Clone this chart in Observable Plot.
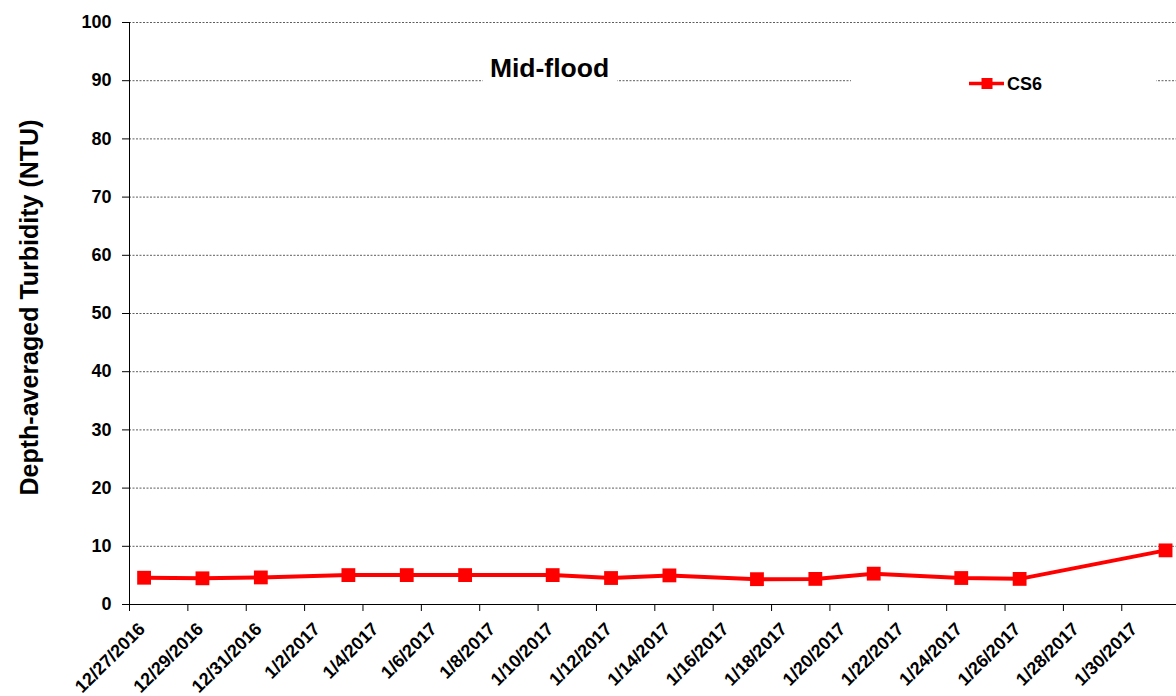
<!DOCTYPE html>
<html><head><meta charset="utf-8">
<script src="https://cdn.jsdelivr.net/npm/d3@7"></script>
<script src="https://cdn.jsdelivr.net/npm/@observablehq/plot@0.6"></script>
<style>
body{margin:0;background:#fff}
svg{font-family:"Liberation Sans",Arial,sans-serif}
</style>
</head><body><div id="chart"></div>
<script>
// ---- data ----
const sampleDates = ["2016-12-27T12:00Z","2016-12-29T12:00Z","2016-12-31T12:00Z","2017-01-03T12:00Z","2017-01-05T12:00Z","2017-01-07T12:00Z","2017-01-10T12:00Z","2017-01-12T12:00Z","2017-01-14T12:00Z","2017-01-17T12:00Z","2017-01-19T12:00Z","2017-01-21T12:00Z","2017-01-24T12:00Z","2017-01-26T12:00Z","2017-01-31T12:00Z"];
const cs6Values = [4.6, 4.5, 4.65, 5.05, 5.05, 5.05, 5.05, 4.55, 5.0, 4.35, 4.4, 5.3, 4.55, 4.4, 9.3];
const xTickDates = ["2016-12-27","2016-12-29","2016-12-31","2017-01-02","2017-01-04","2017-01-06","2017-01-08","2017-01-10","2017-01-12","2017-01-14","2017-01-16","2017-01-18","2017-01-20","2017-01-22","2017-01-24","2017-01-26","2017-01-28","2017-01-30"];
const yTickValues = [0,10,20,30,40,50,60,70,80,90,100];
const xDomain = ["2016-12-27T00:00Z","2017-01-31T21:00Z"];
const seriesName = "CS6";
const titleText = "Mid-flood";
const yLabelText = "Depth-averaged Turbidity (NTU)";

const data = sampleDates.map((d,i)=>({date:new Date(d), value:cs6Values[i]}));
const xTicks = xTickDates.map(d=>new Date(d+"T00:00Z"));
const fmt = d3.utcFormat("%-m/%-d/%Y");
const RED = "#ff0000";

const chart = Plot.plot({
  width:1176, height:696,
  marginLeft:129, marginRight:0, marginTop:22, marginBottom:92,
  style:{fontFamily:"'Liberation Sans', Arial, sans-serif", fontWeight:"bold", fontSize:"18px", background:"#fff", color:"#000", overflow:"visible"},
  x:{type:"utc", domain:xDomain.map(d=>new Date(d))},
  y:{domain:[0,100]},
  marks:[
    Plot.gridY(yTickValues.filter(v=>v>0), {stroke:"#333", strokeOpacity:1, strokeWidth:0.8, strokeDasharray:"2,1.5"}),
    Plot.axisY({ticks:yTickValues, tickSize:7, tickPadding:11, label:null, fontSize:18, fontWeight:"bold", stroke:"#000"}),
    Plot.axisX({ticks:xTicks, tickSize:7, tickPadding:4, tickRotate:-45, tickFormat:fmt, label:null, fontSize:18, fontWeight:"bold", stroke:"#000"}),
    Plot.ruleX([new Date(xDomain[0])], {stroke:"#000", strokeWidth:1}),
    Plot.ruleY([0], {stroke:"#000", strokeWidth:1}),
    Plot.line(data, {x:"date", y:"value", stroke:RED, strokeWidth:4}),
    Plot.dot(data, {x:"date", y:"value", symbol:"square", r:7.8, fill:RED, stroke:"none"})
  ]
});
document.getElementById("chart").appendChild(chart);

const svg = d3.select(chart);
// shift rotated x tick labels (Excel-style placement)
const xl = svg.select("g[aria-label='x-axis tick label']");
xl.attr("transform", `translate(12.5,10.5) ${xl.attr("transform")||""}`);

// title box
svg.append("rect").attr("x",483).attr("y",52).attr("width",134).attr("height",40).attr("fill","#fff");
svg.append("text").attr("x",549.5).attr("y",77).attr("text-anchor","middle")
  .attr("font-size",26.5).attr("font-weight","bold").attr("fill","#000").text(titleText);
// legend box
svg.append("rect").attr("x",851).attr("y",62).attr("width",305).attr("height",40).attr("fill","#fff");
svg.append("line").attr("x1",969).attr("x2",1004).attr("y1",83.5).attr("y2",83.5).attr("stroke",RED).attr("stroke-width",3.5);
svg.append("rect").attr("x",981.5).attr("y",78).attr("width",11).attr("height",11).attr("fill",RED);
svg.append("text").attr("x",1007).attr("y",90).attr("text-anchor","start").attr("font-size",18).attr("font-weight","bold").attr("fill","#000").text(seriesName);
// y label
svg.append("text").attr("transform","translate(38,307.5) rotate(-90)").attr("text-anchor","middle")
  .attr("font-size",25).attr("font-weight","bold").attr("fill","#000").text(yLabelText);
</script>
</body></html>
